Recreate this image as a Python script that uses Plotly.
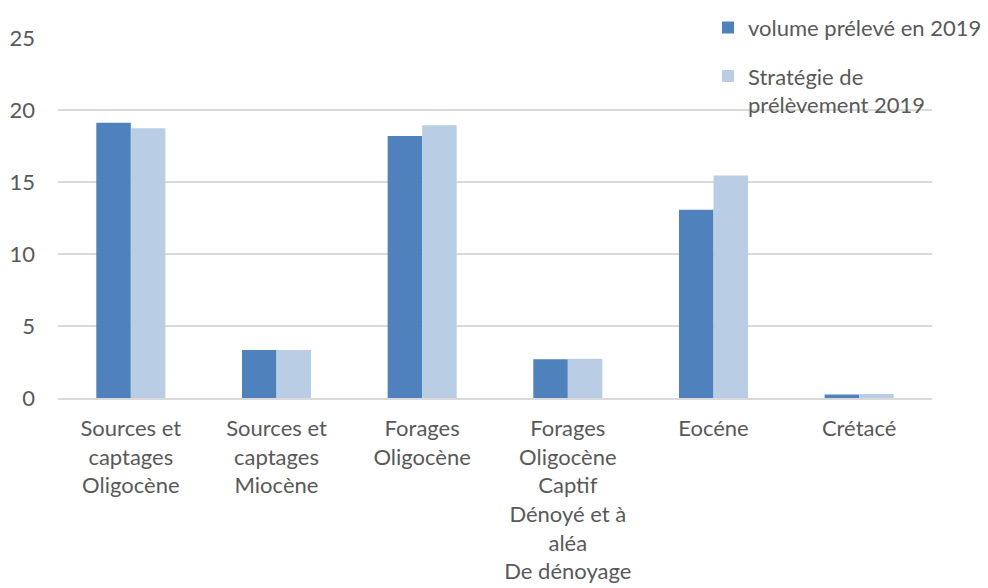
import plotly.graph_objects as go

categories = [
    "Sources et<br>captages<br>Oligocène",
    "Sources et<br>captages<br>Miocène",
    "Forages<br>Oligocène",
    "Forages<br>Oligocène<br>Captif<br>Dénoyé et à<br>aléa<br>De dénoyage",
    "Eocéne",
    "Crétacé",
]
volume_2019 = [19.12, 3.33, 18.2, 2.69, 13.08, 0.25]
strategie_2019 = [18.73, 3.33, 18.94, 2.73, 15.46, 0.27]
series_names = ["volume prélevé en 2019", "Stratégie de<br>prélèvement 2019"]
y_ticks = [0, 5, 10, 15, 20, 25]

FONT = "Lato"
TXT = "#595959"

fig = go.Figure()
fig.add_trace(go.Bar(x=categories, y=volume_2019, name=series_names[0],
                     marker=dict(color="#4f81bd", line=dict(width=0)),
                     legendgroup="a"))
fig.add_trace(go.Bar(x=categories, y=strategie_2019, name=series_names[1],
                     marker=dict(color="#b9cde5", line=dict(width=0)),
                     legendgroup="b"))

fig.update_layout(
    width=988, height=588,
    margin=dict(l=58, r=56, t=38, b=190, autoexpand=False),
    paper_bgcolor="white", plot_bgcolor="white",
    font=dict(family=FONT, size=22, color=TXT),
    barmode="group", bargap=0.526, bargroupgap=0,
    legend=dict(x=0.7437, y=1.087, xanchor="left", yanchor="top",
                bgcolor="rgba(0,0,0,0)", tracegroupgap=17, valign="top",
                font=dict(family=FONT, size=22, color=TXT)),
    xaxis=dict(showgrid=False, showline=True, linecolor="#d9d9d9", linewidth=1.5,
               ticks="", tickfont=dict(size=22, color=TXT), tickangle=0,
               ticklabelstandoff=10, automargin=False),
    yaxis=dict(range=[0, 25], tickvals=y_ticks, showgrid=True, gridcolor="#d9d9d9",
               gridwidth=1.5, zeroline=False, showline=False, ticks="",
               tickfont=dict(size=22, color=TXT), ticklabelstandoff=22,
               automargin=False),
)

fig.write_html("out.html")
